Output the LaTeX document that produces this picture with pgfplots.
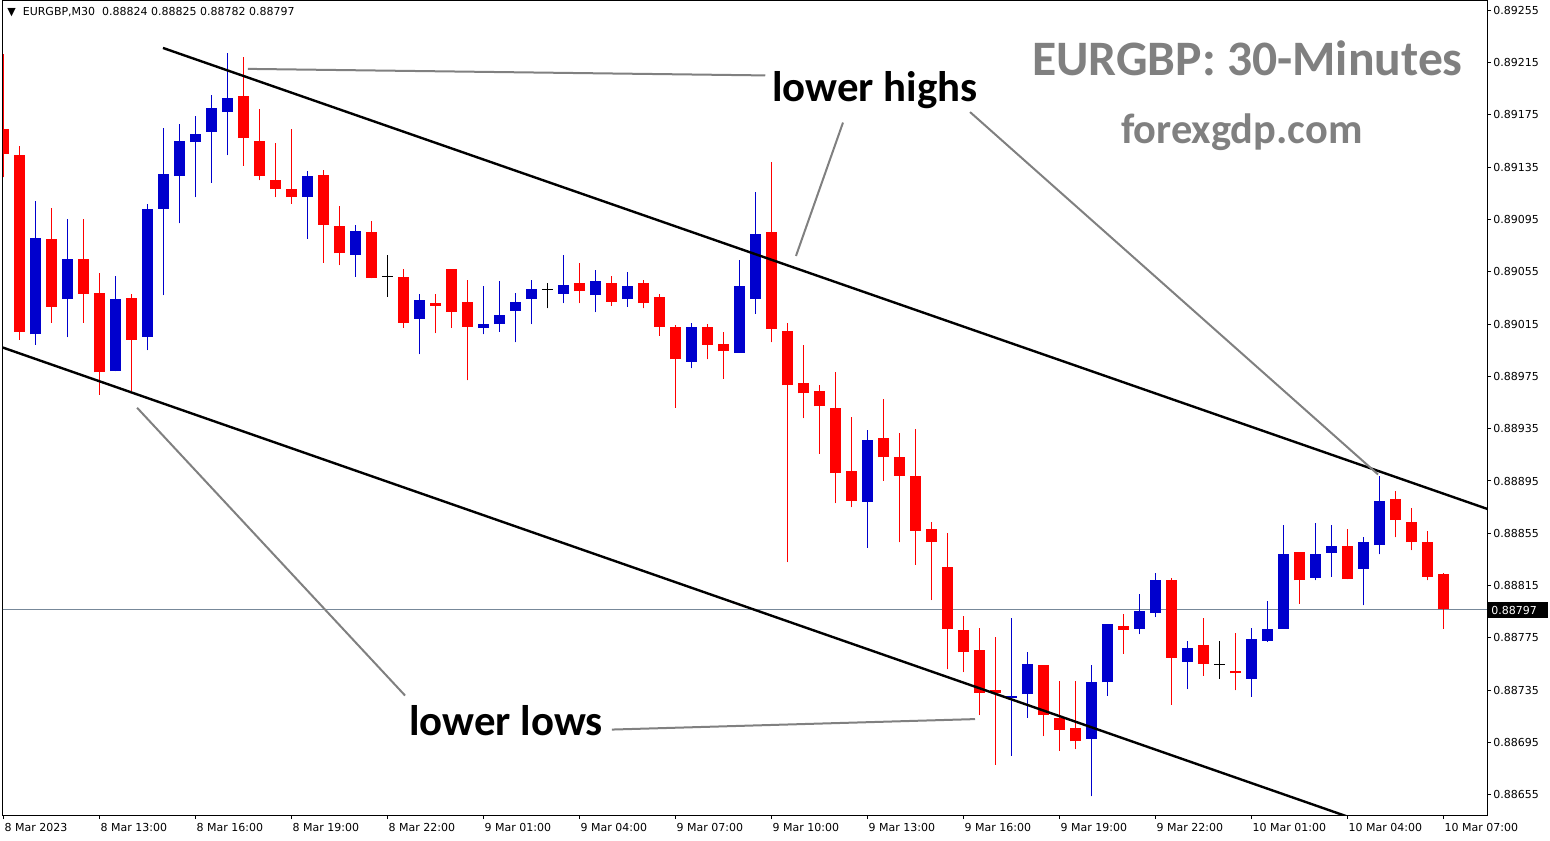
\documentclass[border=0pt]{standalone}
\usepackage{fontspec}
\usepackage{pgfplots}
\usepackage{pgfplotstable}
\pgfplotsset{compat=1.18}
\setmainfont{DejaVu Sans}
\newfontfamily\dejavu{DejaVu Sans}
\newfontfamily\carlito{Carlito}
\definecolor{bear}{RGB}{255,0,0}
\definecolor{bull}{RGB}{0,0,205}
\definecolor{pline}{RGB}{119,136,153}
\definecolor{anno}{RGB}{128,128,128}

% bearish candles (red)
\pgfplotstableread{
k O H L C
0 0.89164 0.89221 0.89127 0.89145
1 0.89144 0.89151 0.89003 0.89009
3 0.89080 0.89104 0.89016 0.89028
5 0.89065 0.89095 0.89016 0.89038
6 0.89039 0.89054 0.88961 0.88978
8 0.89035 0.89038 0.88964 0.89003
15 0.89189 0.89219 0.89136 0.89157
16 0.89155 0.89179 0.89125 0.89128
17 0.89125 0.89153 0.89112 0.89118
18 0.89118 0.89164 0.89107 0.89112
20 0.89129 0.89133 0.89062 0.89091
21 0.89090 0.89105 0.89060 0.89069
23 0.89085 0.89094 0.89050 0.89050
25 0.89051 0.89057 0.89012 0.89016
27 0.89031 0.89038 0.89008 0.89029
28 0.89057 0.89057 0.89012 0.89024
29 0.89032 0.89049 0.88972 0.89013
36 0.89046 0.89062 0.89031 0.89040
38 0.89046 0.89052 0.89029 0.89032
40 0.89046 0.89049 0.89027 0.89031
41 0.89036 0.89038 0.89006 0.89013
42 0.89013 0.89014 0.88951 0.88988
44 0.89013 0.89015 0.88988 0.88999
45 0.89000 0.89009 0.88973 0.88994
48 0.89085 0.89139 0.89001 0.89011
49 0.89010 0.89016 0.88833 0.88968
50 0.88970 0.88999 0.88943 0.88962
51 0.88964 0.88968 0.88916 0.88952
52 0.88951 0.88978 0.88878 0.88901
53 0.88903 0.88944 0.88875 0.88880
55 0.88928 0.88958 0.88895 0.88913
56 0.88913 0.88932 0.88848 0.88899
57 0.88899 0.88935 0.88831 0.88857
58 0.88858 0.88864 0.88804 0.88848
59 0.88829 0.88855 0.88751 0.88782
60 0.88781 0.88792 0.88749 0.88764
61 0.88766 0.88783 0.88716 0.88733
62 0.88735 0.88776 0.88678 0.88733
65 0.88754 0.88754 0.88700 0.88716
66 0.88714 0.88742 0.88689 0.88705
67 0.88706 0.88742 0.88690 0.88696
70 0.88784 0.88793 0.88763 0.88781
73 0.88819 0.88821 0.88724 0.88760
75 0.88770 0.88790 0.88746 0.88755
77 0.88750 0.88779 0.88735 0.88748
81 0.88841 0.88841 0.88801 0.88819
84 0.88845 0.88858 0.88820 0.88820
87 0.88881 0.88887 0.88852 0.88865
88 0.88864 0.88874 0.88842 0.88848
89 0.88848 0.88857 0.88819 0.88822
90 0.88824 0.88825 0.88782 0.88797
}\bear

% bullish candles (blue)
\pgfplotstableread{
k O H L C
2 0.89007 0.89109 0.88999 0.89081
4 0.89034 0.89095 0.89005 0.89065
7 0.88979 0.89052 0.88979 0.89034
9 0.89005 0.89107 0.88995 0.89103
10 0.89103 0.89165 0.89037 0.89130
11 0.89128 0.89168 0.89092 0.89155
12 0.89154 0.89174 0.89112 0.89160
13 0.89162 0.89190 0.89123 0.89180
14 0.89177 0.89222 0.89144 0.89188
19 0.89112 0.89132 0.89080 0.89128
22 0.89068 0.89091 0.89051 0.89086
26 0.89019 0.89038 0.88992 0.89033
30 0.89012 0.89044 0.89007 0.89015
31 0.89015 0.89048 0.89009 0.89022
32 0.89025 0.89039 0.89001 0.89032
33 0.89034 0.89049 0.89015 0.89042
35 0.89038 0.89068 0.89031 0.89045
37 0.89037 0.89056 0.89024 0.89048
39 0.89034 0.89055 0.89028 0.89044
43 0.88986 0.89016 0.88981 0.89013
46 0.88993 0.89064 0.88993 0.89044
47 0.89034 0.89116 0.89023 0.89084
54 0.88879 0.88934 0.88844 0.88926
63 0.88729 0.88790 0.88685 0.88731
64 0.88732 0.88764 0.88714 0.88755
68 0.88698 0.88754 0.88654 0.88741
69 0.88741 0.88786 0.88731 0.88786
71 0.88782 0.88809 0.88778 0.88796
72 0.88794 0.88825 0.88791 0.88819
74 0.88757 0.88773 0.88736 0.88767
78 0.88744 0.88783 0.88730 0.88774
79 0.88773 0.88803 0.88772 0.88782
80 0.88782 0.88861 0.88782 0.88839
82 0.88821 0.88863 0.88819 0.88839
83 0.88840 0.88861 0.88822 0.88845
85 0.88828 0.88852 0.88800 0.88848
86 0.88846 0.88899 0.88839 0.88880
}\bull

% doji candles (black)
\pgfplotstableread{
k O H L C
24 0.89051 0.89068 0.89036 0.89051
34 0.89041 0.89046 0.89027 0.89041
76 0.88755 0.88773 0.88744 0.88755
}\doji

\begin{document}
\begin{tikzpicture}
\begin{axis}[
  at={(1.5pt,12.5pt)}, anchor=south west,
  scale only axis, width=742pt, height=407pt,
  xmin=-0.02, xmax=92.73, ymin=0.886397, ymax=0.892619,
  axis line style={line width=0.5pt, black},
  xtick={0,6,12,18,24,30,36,42,48,54,60,66,72,78,84,90},
  xticklabels={8 Mar 2023,8 Mar 13:00,8 Mar 16:00,8 Mar 19:00,8 Mar 22:00,9 Mar 01:00,9 Mar 04:00,9 Mar 07:00,9 Mar 10:00,9 Mar 13:00,9 Mar 16:00,9 Mar 19:00,9 Mar 22:00,10 Mar 01:00,10 Mar 04:00,10 Mar 07:00},
  xtick pos=bottom,
  ytick={0.88655,0.88695,0.88735,0.88775,0.88815,0.88855,0.88895,0.88935,0.88975,0.89015,0.89055,0.89095,0.89135,0.89175,0.89215,0.89255},
  yticklabels={0.88655,0.88695,0.88735,0.88775,0.88815,0.88855,0.88895,0.88935,0.88975,0.89015,0.89055,0.89095,0.89135,0.89175,0.89215,0.89255},
  ytick pos=right, yticklabel pos=right,
  tick align=outside, major tick length=2pt,
  tick style={black, line width=0.5pt},
  ticklabel style={font=\dejavu\fontsize{5.5}{6.6}\selectfont, text=black},
  xticklabel style={anchor=north west, inner sep=0pt, xshift=0.5pt, yshift=-2pt},
  yticklabel style={anchor=west, inner sep=0pt, xshift=1pt},
  clip=true,
  candle/.style={only marks, mark=*, mark size=0pt, mark options={draw=none, fill=none},
    error bars/y explicit, error bars/error mark=none},
]
% current price line
\addplot[pline, line width=0.5pt] coordinates {(-1,0.88797) (100,0.88797)};
% wicks
\addplot[candle, error bars/y dir=plus,
  error bars/error bar style={line width=0.5pt, color=bear}]
  table[x=k, y=L, y error expr=\thisrow{H}-\thisrow{L}] {\bear};
\addplot[candle, error bars/y dir=plus,
  error bars/error bar style={line width=0.5pt, color=bull}]
  table[x=k, y=L, y error expr=\thisrow{H}-\thisrow{L}] {\bull};
\addplot[candle, error bars/y dir=plus,
  error bars/error bar style={line width=0.5pt, color=black}]
  table[x=k, y=L, y error expr=\thisrow{H}-\thisrow{L}] {\doji};
% bodies
\addplot[candle, error bars/y dir=plus,
  error bars/error bar style={line width=5.5pt, line cap=butt, color=bear}]
  table[x=k, y=C, y error expr=\thisrow{O}-\thisrow{C}] {\bear};
\addplot[candle, error bars/y dir=plus,
  error bars/error bar style={line width=5.5pt, line cap=butt, color=bull}]
  table[x=k, y=O, y error expr=\thisrow{C}-\thisrow{O}] {\bull};
\addplot[only marks, mark=*, mark size=0pt, mark options={draw=none, fill=none},
  error bars/.cd, x dir=both, x fixed=0.344, error mark=none,
  error bar style={line width=0.5pt, color=black}]
  table[x=k, y=O] {\doji};
% channel lines
\addplot[black, line width=1.2pt] coordinates {(9.98,0.89226) (92.9,0.88873)};
\addplot[black, line width=1.2pt] coordinates {(-0.5,0.88999) (86,0.88630)};
% annotation lines
\addplot[anno, line width=1pt] coordinates {(15.29,0.89210) (47.62,0.89205)};
\addplot[anno, line width=1pt] coordinates {(52.48,0.89169) (49.54,0.89067)};
\addplot[anno, line width=1pt] coordinates {(60.42,0.89177) (85.92,0.88900)};
\addplot[anno, line width=1pt] coordinates {(8.36,0.88951) (25.11,0.88731)};
\addplot[anno, line width=1pt] coordinates {(38.04,0.88705) (60.73,0.88713)};
\end{axis}
% header
\node[anchor=base west, inner sep=0pt, font=\dejavu\fontsize{5.5}{6.6}\selectfont] at (3.5pt,412pt) {▼\ \ EURGBP,M30\ \ 0.88824 0.88825 0.88782 0.88797};
% annotations
\node[anchor=base west, inner sep=0pt, font=\carlito\bfseries\fontsize{21.4}{24}\selectfont] at (386pt,369pt) {lower highs};
\node[anchor=base west, inner sep=0pt, font=\carlito\bfseries\fontsize{21.4}{24}\selectfont] at (204.5pt,52.5pt) {lower lows};
\node[anchor=base east, inner sep=0pt, text=anno, font=\carlito\bfseries\fontsize{24.8}{28}\selectfont] at (731.5pt,382pt) {EURGBP: 30-Minutes};
\node[anchor=base east, inner sep=0pt, text=anno, font=\carlito\bfseries\fontsize{21.2}{24}\selectfont] at (681.5pt,348pt) {forexgdp.com};
% current price tag
\fill[black] (743.5pt,111pt) rectangle (774pt,119pt);
\node[anchor=west, inner sep=0pt, text=white, font=\dejavu\fontsize{5.5}{6.6}\selectfont] at (745.5pt,115pt) {0.88797};
\pgfresetboundingbox
\useasboundingbox (0,0) rectangle (775pt,420pt);
\end{tikzpicture}
\end{document}
